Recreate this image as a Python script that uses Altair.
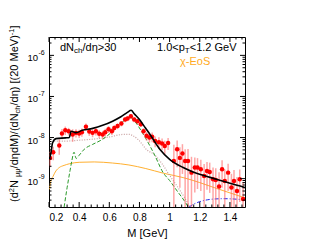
import altair as alt
import pandas as pd
import numpy as np

# ---------------- data ----------------
pt_M = [0.207,0.228,0.268,0.286,0.308,0.330,0.357,0.379,0.400,0.418,0.445,0.467,0.489,0.511,0.533,0.556,
        0.573,0.595,0.617,0.633,0.655,0.680,0.705,0.721,0.743,0.765,0.787,0.809,0.827,0.847,0.866,0.884,
        0.904,0.929,0.950,0.968,0.990,1.028,1.050,1.068,1.085,1.103,1.122,1.145,1.167,1.185,1.207,1.229,
        1.248,1.266,1.288,1.306,1.328,1.348,1.366,1.388,1.410,1.427,1.447,1.465,1.487]
pt_y = [3.2e-9,4.4e-9,6.4e-9,1.26e-8,1.5e-8,1.42e-8,1.19e-8,1.3e-8,1.26e-8,1.35e-8,1.83e-8,1.4e-8,1.3e-8,1.42e-8,
        1.23e-8,1.19e-8,1.35e-8,1.6e-8,1.42e-8,1.7e-8,1.9e-8,2.2e-8,2.74e-8,2.9e-8,3.3e-8,2.74e-8,2.5e-8,2.1e-8,
        1.42e-8,1.1e-8,1.0e-8,1.05e-8,8.2e-9,7.7e-9,7.2e-9,6.2e-9,7.4e-9,2.7e-9,5.2e-9,3.2e-9,4.1e-9,2.7e-9,
        2.7e-9,1.4e-9,1.86e-9,1.86e-9,1.7e-9,1.16e-9,1.54e-9,1.45e-9,9.7e-10,9.3e-10,6.4e-10,1.7e-9,8.8e-10,
        1.4e-9,6.1e-10,8.8e-10,5.0e-10,9.7e-10,3.2e-10]
pt_err = [1.3e-9,1.6e-9,2.6e-9,3.5e-9,3.5e-9,3.0e-9,4.0e-9,3.0e-9,2.8e-9,3.0e-9,3.6e-9,3.0e-9,2.8e-9,3.0e-9,
          2.7e-9,2.6e-9,2.8e-9,3.0e-9,2.6e-9,2.8e-9,3.0e-9,3.3e-9,3.8e-9,4.0e-9,4.5e-9,3.8e-9,3.5e-9,3.0e-9,
          2.6e-9,2.6e-9,2.5e-9,2.8e-9,2.4e-9,2.4e-9,2.3e-9,2.2e-9,2.4e-9,4.0e-9,3.3e-9,2.6e-9,2.8e-9,2.5e-9,
          2.6e-9,2.0e-9,1.4e-9,1.3e-9,1.2e-9,1.1e-9,1.0e-9,1.0e-9,9.0e-10,8.5e-10,8.0e-10,1.1e-9,8.0e-10,
          9.0e-10,7.0e-10,7.5e-10,6.0e-10,7.0e-10,5.0e-10]

black_M = [0.203,0.213,0.224,0.246,0.31,0.335,0.346,0.36,0.38,0.42,0.49,0.556,0.622,0.677,0.72,0.745,0.765,
           0.80,0.84,0.87,0.935,1.0,1.09,1.156,1.22,1.31,1.4,1.5]
black_y = [3.0e-9,4.3e-9,7.5e-9,9.4e-9,9.8e-9,1.0e-8,1.42e-8,1.38e-8,1.32e-8,1.5e-8,1.67e-8,1.98e-8,2.5e-8,
           3.2e-8,4.1e-8,4.6e-8,3.8e-8,2.74e-8,1.7e-8,1.19e-8,5.2e-9,2.95e-9,1.86e-9,1.45e-9,1.21e-9,9.7e-10,
           7.7e-10,6.1e-10]

green_M = [0.30,0.32,0.34,0.352,0.366,0.38,0.40,0.434,0.489,0.556,0.622,0.688,0.732,0.75,0.765,0.82,0.87,
           0.90,0.957,1.0,1.05,1.10,1.125]
green_y = [2.0e-10,6e-10,1.6e-9,2.8e-9,4.4e-9,3.1e-9,3.7e-9,5.2e-9,6.8e-9,9.1e-9,1.42e-8,2.4e-8,3.0e-8,3.0e-8,
           2.6e-8,1.3e-8,6.2e-9,3.8e-9,1.4e-9,9e-10,5e-10,2.8e-10,2.0e-10]

pink_M = [0.235,0.313,0.40,0.50,0.60,0.688,0.73,0.754,0.79,0.82,0.842,0.90,0.95,1.0,1.05,1.10,1.135]
pink_y = [8.2e-9,8.2e-9,8.6e-9,9.2e-9,1.03e-8,1.19e-8,1.2e-8,1.12e-8,9e-9,6.7e-9,5.3e-9,3.8e-9,2.3e-9,1.2e-9,
          6.5e-10,3.4e-10,2.0e-10]

orange_M = [0.203,0.21,0.228,0.246,0.268,0.30,0.335,0.40,0.50,0.62,0.73,0.842,0.96,1.09,1.2,1.31,1.4,1.5]
orange_y = [5.5e-10,8e-10,1.16e-9,1.54e-9,1.86e-9,2.1e-9,2.3e-9,2.5e-9,2.55e-9,2.4e-9,2.15e-9,1.76e-9,1.35e-9,
            1.06e-9,8e-10,5.8e-10,4.5e-10,3.4e-10]

blue_M = [1.13,1.16,1.2,1.25,1.3,1.36,1.42,1.47,1.5]
blue_y = [2.05e-10,2.4e-10,2.75e-10,3.05e-10,3.2e-10,3.25e-10,3.2e-10,3.1e-10,3.0e-10]

x_major = [0.2,0.4,0.6,0.8,1.0,1.2,1.4]
x_minor = [0.24,0.28,0.32,0.36,0.44,0.48,0.52,0.56,0.64,0.68,0.72,0.76,0.84,0.88,0.92,0.96,
           1.04,1.08,1.12,1.16,1.24,1.28,1.32,1.36,1.44,1.48]
y_major = [1e-9,1e-8,1e-7,1e-6]
y_exp = ["-9","-8","-7","-6"]
y_minor = [m * d for d in [1e-10,1e-9,1e-8,1e-7,1e-6] for m in range(2,10) if 2.1e-10 < m*d < 2.7e-6]

# ---------------- layout ----------------
W, H = 196, 170
XD = [0.2, 1.5]
YD = [2.04e-10, 2.8e-6]
FONT = "Liberation Sans"

xs = alt.Scale(domain=XD, nice=False, zero=False)
ys = alt.Scale(type="log", domain=YD, nice=False)

XAX = alt.Axis(values=x_major, format="~g", ticks=False, domain=False, grid=False,
               labelFont=FONT, labelFontSize=10, labelPadding=5, labelColor="black",
               title="M [GeV]", titleFont=FONT, titleFontSize=11, titleFontWeight="normal",
               titlePadding=5, titleColor="black")
YAX = alt.Axis(values=y_major, labels=False, ticks=False, domain=False, grid=False, title="")

def X(field):
    return alt.X(field, scale=xs, axis=XAX)

def Y(field):
    return alt.Y(field, scale=ys, axis=YAX)

pts = pd.DataFrame({"M": pt_M, "y": pt_y, "e": pt_err})
pts["lo"] = np.maximum(pts["y"] - pts["e"], 1e-11)
pts["hi"] = pts["y"] + pts["e"]

def curve(M, y, color, width, dash=None):
    df = pd.DataFrame({"M": M, "y": y})
    kw = dict(color=color, strokeWidth=width, clip=True, interpolate="monotone")
    if dash:
        kw["strokeDash"] = dash
    return alt.Chart(df).mark_line(**kw).encode(x=X("M:Q"), y=Y("y:Q"))

errbars = alt.Chart(pts).mark_rule(color="#ff6a6a", opacity=0.6, strokeWidth=1.5, clip=True).encode(
    x=X("M:Q"), y=Y("lo:Q"), y2="hi:Q")

points = alt.Chart(pts).mark_point(filled=True, shape="circle", size=20, color="#ff0000",
                                   opacity=1, clip=True).encode(x=X("M:Q"), y=Y("y:Q"))

def tick_layer(vals, channel, side, length):
    df = pd.DataFrame({"v": vals})
    base = alt.Chart(df).mark_rule(color="black", strokeWidth=1)
    if channel == "x":
        enc = dict(x=X("v:Q"))
        if side == "bottom":
            enc.update(y=alt.value(H), y2=alt.value(H - length))
        else:
            enc.update(y=alt.value(0), y2=alt.value(length))
    else:
        enc = dict(y=Y("v:Q"))
        if side == "left":
            enc.update(x=alt.value(0), x2=alt.value(length))
        else:
            enc.update(x=alt.value(W), x2=alt.value(W - length))
    return base.encode(**enc)

ticks = [tick_layer(x_major, "x", "bottom", 5), tick_layer(x_minor, "x", "bottom", 2.5),
         tick_layer(x_major, "x", "top", 5), tick_layer(x_minor, "x", "top", 2.5),
         tick_layer(y_major, "y", "left", 5), tick_layer(y_minor, "y", "left", 2.5),
         tick_layer(y_major, "y", "right", 5), tick_layer(y_minor, "y", "right", 2.5)]

# y tick labels as 10 with raised exponent
ylab_df = pd.DataFrame({"v": y_major, "base": ["10"] * len(y_major), "exp": y_exp})
ylab_base = alt.Chart(ylab_df).mark_text(font=FONT, fontSize=9.5, color="black", align="right",
                                         baseline="middle", dy=3).encode(
    y=Y("v:Q"), x=alt.value(-11), text="base:N")
ylab_exp = alt.Chart(ylab_df).mark_text(font=FONT, fontSize=7, color="black", align="left",
                                        baseline="middle", dy=-2).encode(
    y=Y("v:Q"), x=alt.value(-10.5), text="exp:N")

# ---------------- rich text pieces ----------------
WID = {'(':0.333,')':0.333,'d':0.556,'2':0.556,' ':0.278,'N':0.722,'μ':0.576,'/':0.278,'η':0.556,
       'M':0.833,'c':0.5,'h':0.556,'[':0.278,']':0.278,'0':0.556,'e':0.556,'V':0.667,'-':0.333,
       '1':0.556,'>':0.584,'<':0.584,'3':0.556,'.':0.278,'p':0.556,'T':0.611,'G':0.778}

def text_width(s, fs):
    return sum(WID.get(c, 0.556) for c in s) * fs

def rich(pieces, x0, y0, vertical=False, color="black"):
    layers = []
    pos = 0.0
    for s, fs, shift in pieces:
        off = 3.0 if shift == 1 else (-3.0 if shift == -1 else 0.0)
        if vertical:
            xv, yv, ang = x0 + off, y0 - pos, 270
        else:
            xv, yv, ang = x0 + pos, y0 + off, 0
        layers.append(alt.Chart(pd.DataFrame({"t": [s]})).mark_text(
            font=FONT, fontSize=fs, color=color, align="left", baseline="middle", angle=ang
        ).encode(text="t:N", x=alt.value(xv), y=alt.value(yv)))
        pos += text_width(s, fs)
    return layers

ytitle = rich([("(d", 11, 0), ("2", 7.5, -1), (" N", 11, 0), ("μμ", 7.5, 1), ("/dηdM)/(dN", 11, 0),
               ("ch", 7.5, 1), ("/dη) [(20 MeV)", 11, 0), ("-1", 7.5, -1), ("]", 11, 0)],
              -34, 165, vertical=True)
lab1 = rich([("dN", 11, 0), ("ch", 8, 1), ("/dη>30", 11, 0)], 11, 11)
lab2 = rich([("1.0<p", 11, 0), ("T", 8, 1), ("<1.2 GeV", 11, 0)], 108, 11)
lab3 = rich([("χ-EoS", 11, 0)], 131, 25, color="#ffaa22")

layers = ([points.mark_point(opacity=0),
           curve(orange_M, orange_y, "#ffb030", 1),
           curve(pink_M, pink_y, "#c8a0a0", 1.2, [1, 1.5]),
           curve(green_M, green_y, "#2a9a2a", 1, [4, 2]),
           curve(blue_M, blue_y, "#2222ee", 1, [4, 2, 1, 2]),
           errbars, points,
           curve(black_M, black_y, "black", 1.6)]
          + ticks + [ylab_base, ylab_exp] + ytitle + lab1 + lab2 + lab3)

chart = alt.layer(*layers).properties(
    width=W, height=H,
    autosize=alt.AutoSizeParams(type="none"),
    padding={"left": 41, "top": 29, "right": 64, "bottom": 37},
    background="white",
).configure_view(stroke="black", strokeWidth=1)

chart.save("out.html", embed_options={"renderer": "svg", "actions": False})
